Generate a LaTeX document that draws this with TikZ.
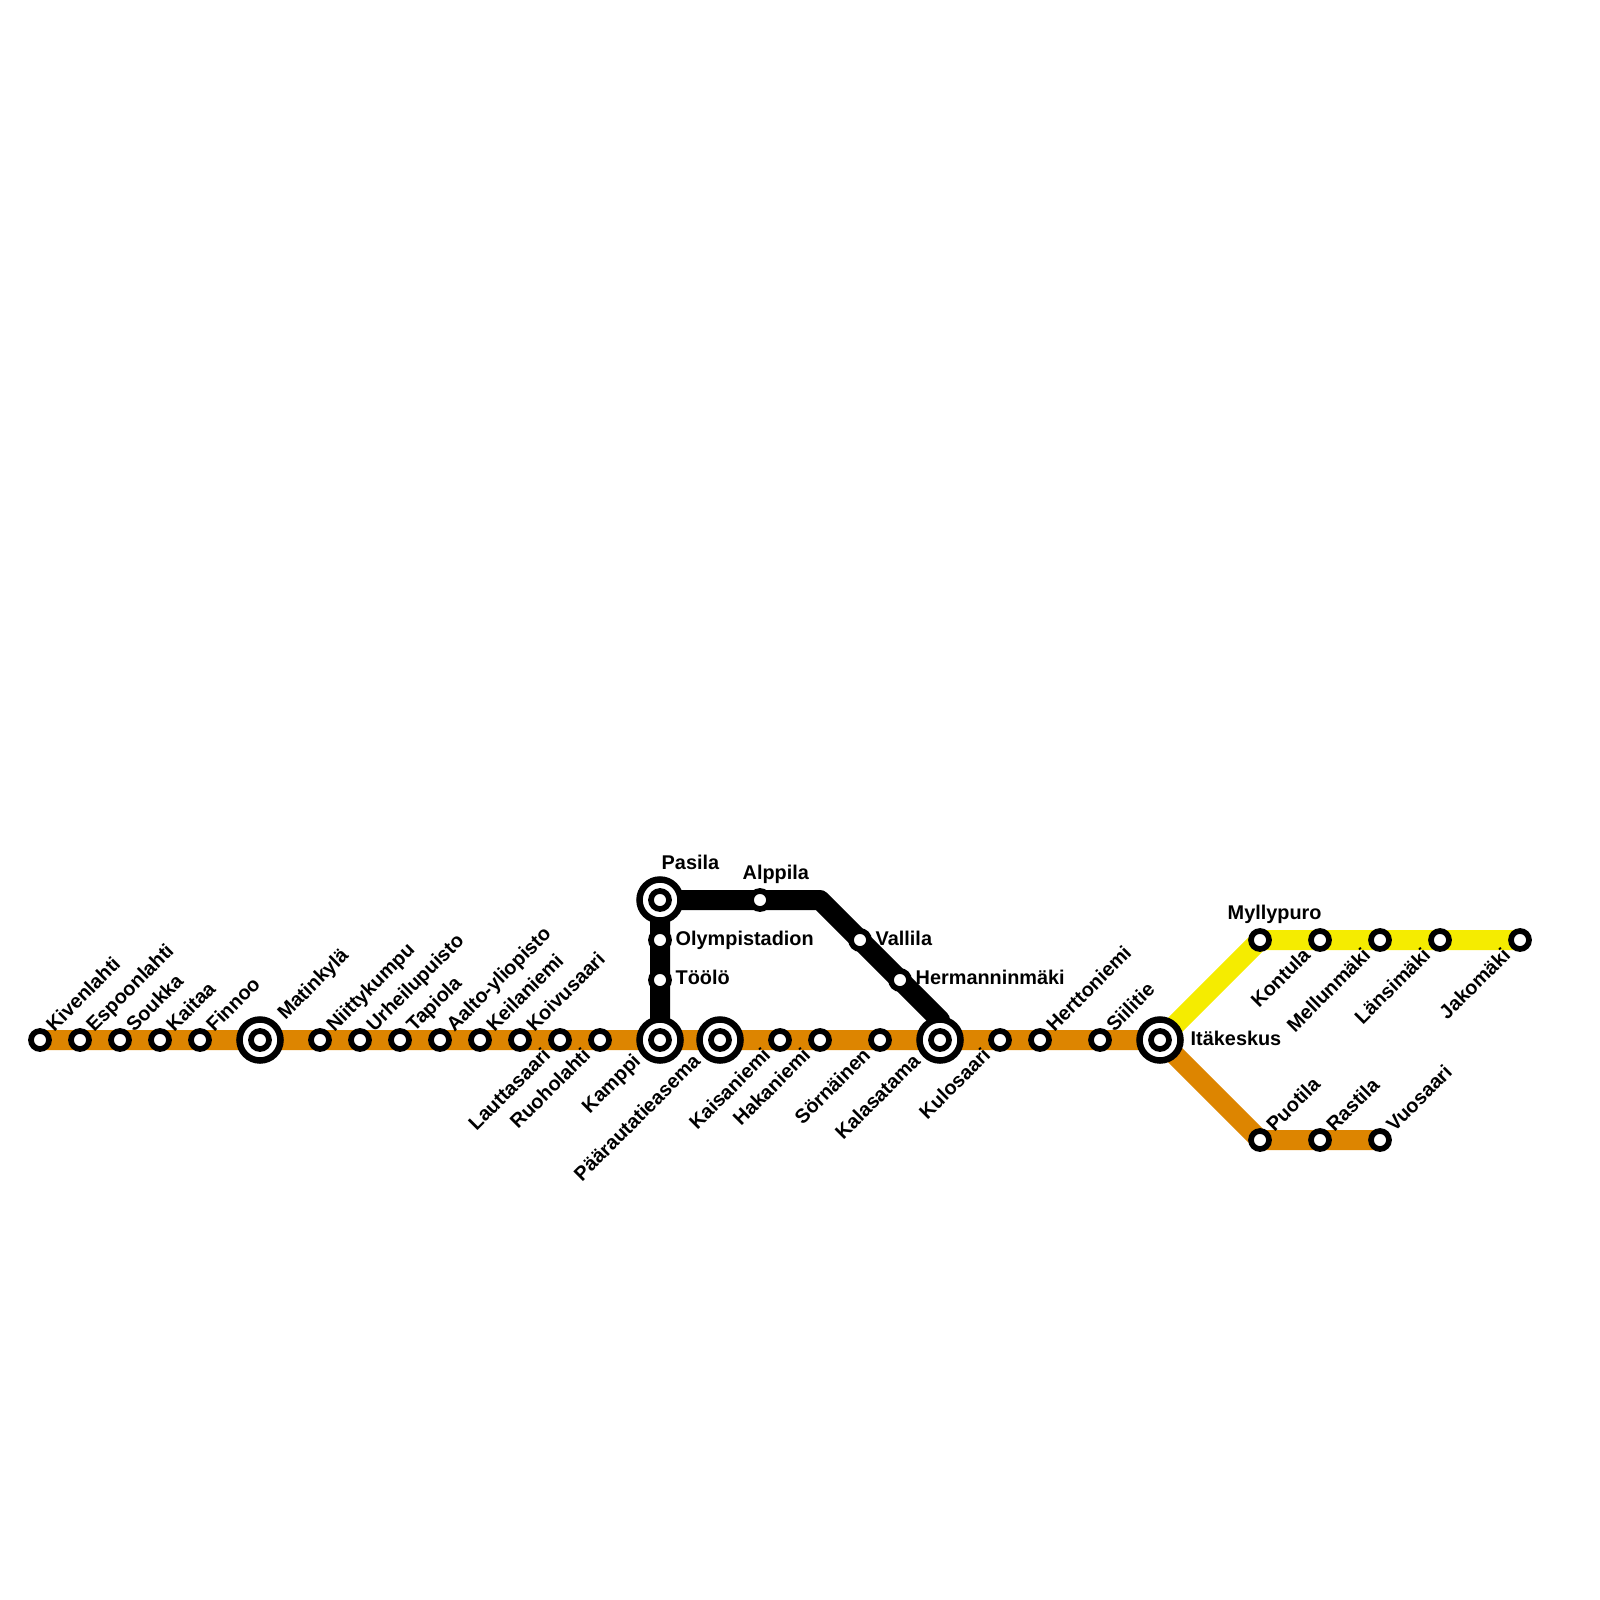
\documentclass[tikz,border=0pt]{standalone}
\usepackage{fontspec}
\setmainfont{Liberation Sans}
\usepackage{xcolor}
\definecolor{metroorange}{HTML}{DD8500}
\definecolor{metroyellow}{HTML}{F5EC00}
\usetikzlibrary{backgrounds}
\tikzset{
  every node/.style={font=\fontsize{5.65}{6.8}\selectfont\bfseries},
  stopmark/.style={circle, draw=black, fill=white, line width=0.57mm, minimum size=1.8mm, inner sep=0pt, outer sep=0pt},
  hubmark/.style={circle, draw=black, fill=white, line width=0.65mm, minimum size=4.1mm, inner sep=0pt, outer sep=0pt},
  route/.style={line width=2mm, line join=round},
  labelup/.style={anchor=base west, rotate=45, inner sep=0pt},
  labeldown/.style={anchor=base east, rotate=45, inner sep=0pt},
  labelflat/.style={anchor=base west, inner sep=0pt}
}

\begin{document}
\begin{tikzpicture}[x=0.01cm, y=-0.01cm]
\useasboundingbox (0,0) rectangle (1600,1600);

% Hubs, with a ring round an ordinary stop
\foreach \name/\x/\y in {matinkyla/260/1040, pasila/660/900, kamppi/660/1040, paarautatie/720/1040, kalasatama/940/1040, itakeskus/1160/1040} {
  \node[hubmark] (\name) at (\x,\y) {};
  \node[stopmark] (\name-in) at (\x,\y) {};
}

% Stops, label above
\foreach \name/\x/\y/\txt in {kivenlahti/40/1040/Kivenlahti, espoonlahti/80/1040/Espoonlahti, soukka/120/1040/Soukka, kaitaa/160/1040/Kaitaa, finnoo/200/1040/Finnoo, niittykumpu/320/1040/Niittykumpu, urheilupuisto/360/1040/Urheilupuisto, tapiola/400/1040/Tapiola, aalto/440/1040/Aalto-yliopisto, keilaniemi/480/1040/Keilaniemi, koivusaari/520/1040/Koivusaari, herttoniemi/1040/1040/Herttoniemi, siilitie/1100/1040/Siilitie, puotila/1260/1140/Puotila, rastila/1320/1140/Rastila, vuosaari/1380/1140/Vuosaari} {
  \node[stopmark] (\name) at (\x,\y) {};
  \node[labelup] (\name-t) at (\x+14,\y-7) {\txt};
}

% Stops, label below
\foreach \name/\x/\y/\txt in {lauttasaari/560/1040/Lauttasaari, ruoholahti/600/1040/Ruoholahti, kaisaniemi/780/1040/Kaisaniemi, hakaniemi/820/1040/Hakaniemi, sornainen/880/1040/Sörnäinen, kulosaari/1000/1040/Kulosaari, kontula/1320/940/Kontula, mellunmaki/1380/940/Mellunmäki, lansimaki/1440/940/Länsimäki, jakomaki/1520/940/Jakomäki} {
  \node[stopmark] (\name) at (\x,\y) {};
  \node[labeldown] (\name-t) at (\x-8,\y+16) {\txt};
}

% Stops on the black line and the end of the yellow one
\foreach \name/\x/\y in {olympiastadion/660/940, toolo/660/980, alppila/760/900, vallila/860/940, hermanninmaki/900/980, myllypuro/1260/940} {
  \node[stopmark] (\name) at (\x,\y) {};
}

% Labels of the hubs
\node[labelup] (matinkyla-t) at (285,1021) {Matinkylä};
\node[labeldown] (kamppi-t) at (642,1062) {Kamppi};
\node[labeldown] (paarautatie-t) at (702,1062) {Päärautatieasema};
\node[labeldown] (kalasatama-t) at (922,1062) {Kalasatama};
\node[labelflat] (pasila-t) at (661,869) {Pasila};
\node[labelflat] (itakeskus-t) at (1190,1045) {Itäkeskus};

% Flat labels
\node[labelflat] (alppila-t) at (742,879) {Alppila};
\node[labelflat] (olympiastadion-t) at (675,945) {Olympistadion};
\node[labelflat] (toolo-t) at (675,984) {Töölö};
\node[labelflat] (vallila-t) at (875,945) {Vallila};
\node[labelflat] (hermanninmaki-t) at (915,984) {Hermanninmäki};
\node[labelflat] (myllypuro-t) at (1227,919) {Myllypuro};

% Corners
\coordinate (bend) at (820,900);
\coordinate (kalasatamabend) at (940,1020);

% Routes go under the stops
\begin{scope}[on background layer]
\draw[route, metroyellow] (itakeskus.center) -- (myllypuro.center) -- (jakomaki.center);
\draw[route, metroorange] (kivenlahti.center) -- (itakeskus.center) -- (puotila.center) -- (vuosaari.center);
\draw[route, black] (kamppi.center) -- (pasila.center) -- (bend) -- (kalasatamabend) -- (kalasatama.center);
\end{scope}

\end{tikzpicture}
\end{document}
